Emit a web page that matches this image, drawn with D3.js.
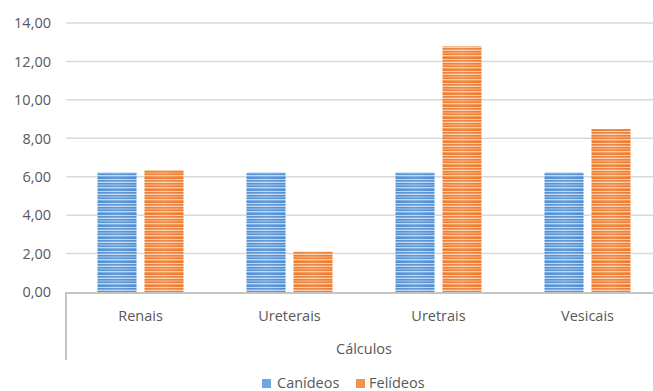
<!DOCTYPE html>
<html>
<head>
<meta charset="utf-8">
<script src="https://cdn.jsdelivr.net/npm/d3@7"></script>
<style>
  html, body { margin: 0; padding: 0; background: #fff; }
  svg { display: block; }
  text { font-family: "Open Sans", "Noto Sans", sans-serif; fill: #595959; }
</style>
</head>
<body>
<svg id="chart" width="653" height="391"></svg>
<script>
// Cálculos urinários: canídeos vs felídeos
const categories = ["Renais", "Ureterais", "Uretrais", "Vesicais"];
const seriesNames = ["Canídeos", "Felídeos"];
const canideos = [6.21, 6.21, 6.21, 6.21];
const felideos = [6.35, 2.10, 12.78, 8.48];
const yTicks = [0, 2, 4, 6, 8, 10, 12, 14];
const axisTitle = "Cálculos";

const seriesColors = {
  "Canídeos": { dark: "#4a8ad0", mid: "#73a6dc", light: "#b9d3f0" },
  "Felídeos": { dark: "#ec7628", mid: "#f29252", light: "#f9c9a6" }
};

const svg = d3.select("#chart");
const plot = { left: 66, right: 662, top: 23, bottom: 292 };

const y = d3.scaleLinear().domain([0, 14]).range([plot.bottom, plot.top]);
const x0 = d3.scaleBand().domain(categories).range([plot.left, plot.right])
  .paddingInner(0.423).paddingOuter(0.2115);
const x1 = d3.scaleBand().domain(seriesNames).range([0, x0.bandwidth()])
  .paddingInner(0.17).paddingOuter(0);

// Striped fills for the bars
const defs = svg.append("defs");
seriesNames.forEach((name, i) => {
  const c = seriesColors[name];
  const p = defs.append("pattern")
    .attr("id", "stripe" + i)
    .attr("patternUnits", "userSpaceOnUse")
    .attr("width", 6).attr("height", 12);
  const rows = [c.dark, c.mid, c.light, c.dark, c.mid, c.mid,
                c.dark, c.light, c.mid, c.dark, c.dark, c.light];
  rows.forEach((col, r) => {
    p.append("rect").attr("x", 0).attr("y", r).attr("width", 6).attr("height", 1).attr("fill", col);
  });
  // soft lighter centre across the bar width
  const g = defs.append("linearGradient").attr("id", "sheen" + i)
    .attr("x1", "0").attr("x2", "1").attr("y1", "0").attr("y2", "0");
  g.append("stop").attr("offset", "0").attr("stop-color", "#fff").attr("stop-opacity", 0.05);
  g.append("stop").attr("offset", "0.5").attr("stop-color", "#fff").attr("stop-opacity", 0.15);
  g.append("stop").attr("offset", "1").attr("stop-color", "#fff").attr("stop-opacity", 0.03);
});

// Gridlines
svg.append("g").selectAll("line").data(yTicks.filter(d => d > 0)).join("line")
  .attr("x1", plot.left).attr("x2", plot.right)
  .attr("y1", d => y(d)).attr("y2", d => y(d))
  .attr("stroke", "#d9d9d9").attr("stroke-width", 1.5);

// Y tick labels
svg.append("g").selectAll("text").data(yTicks).join("text")
  .attr("x", 51).attr("y", d => y(d)).attr("dy", "0.36em")
  .attr("text-anchor", "end").attr("font-size", 14.5)
  .text(d => d3.format(".2f")(d).replace(".", ","));

// Bars
const data = categories.map((c, i) => ({ cat: c, vals: [canideos[i], felideos[i]] }));
const groups = svg.append("g").selectAll("g").data(data).join("g")
  .attr("transform", d => `translate(${x0(d.cat)},0)`);
seriesNames.forEach((name, si) => {
  groups.append("rect")
    .attr("x", x1(name)).attr("width", x1.bandwidth())
    .attr("y", d => y(d.vals[si])).attr("height", d => y(0) - y(d.vals[si]))
    .attr("fill", `url(#stripe${si})`);
  groups.append("rect")
    .attr("x", x1(name)).attr("width", x1.bandwidth())
    .attr("y", d => y(d.vals[si])).attr("height", d => y(0) - y(d.vals[si]))
    .attr("fill", `url(#sheen${si})`);
});

// Axis lines
svg.append("line").attr("x1", plot.left).attr("x2", plot.right)
  .attr("y1", plot.bottom + 1).attr("y2", plot.bottom + 1)
  .attr("stroke", "#c4c4c4").attr("stroke-width", 2);
svg.append("line").attr("x1", plot.left).attr("x2", plot.left)
  .attr("y1", plot.bottom).attr("y2", 360)
  .attr("stroke", "#c4c4c4").attr("stroke-width", 2);

// Category labels
svg.append("g").selectAll("text").data(categories).join("text")
  .attr("x", d => x0(d) + x0.bandwidth() / 2).attr("y", 321)
  .attr("text-anchor", "middle").attr("font-size", 14.5)
  .text(d => d);

// Outer axis title
svg.append("text").attr("x", (plot.left + plot.right) / 2).attr("y", 354)
  .attr("text-anchor", "middle").attr("font-size", 14.5).text(axisTitle);

// Legend
const legendItems = [
  { name: seriesNames[0], sx: 262, tx: 277 },
  { name: seriesNames[1], sx: 356, tx: 369 }
];
const lg = svg.append("g");
legendItems.forEach((it) => {
  lg.append("rect").attr("x", it.sx).attr("y", 379).attr("width", 9).attr("height", 9)
    .attr("fill", seriesColors[it.name].mid);
  lg.append("text").attr("x", it.tx).attr("y", 388).attr("font-size", 14.5).text(it.name);
});
</script>
</body>
</html>
